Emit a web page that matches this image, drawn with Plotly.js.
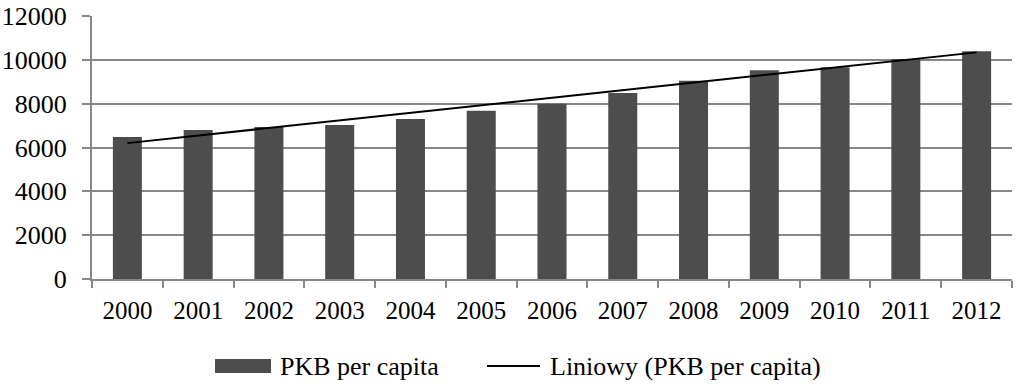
<!DOCTYPE html>
<html>
<head>
<meta charset="utf-8">
<script src="https://cdn.plot.ly/plotly-3.0.1.min.js"></script>
<style>html,body{margin:0;padding:0;background:#fff;}#chart{width:1023px;height:390px;}</style>
</head>
<body>
<div id="chart"></div>
<script>
const years = ['2000','2001','2002','2003','2004','2005','2006','2007','2008','2009','2010','2011','2012'];
const pkbPerCapita = [6480, 6800, 6930, 7030, 7300, 7680, 8000, 8490, 9050, 9520, 9660, 10040, 10390];
const trendYears = ['2000', '2012'];
const trendValues = [6200, 10340];
const yTicks = [0, 2000, 4000, 6000, 8000, 10000, 12000];
const yTickText = ['0', '2000', '4000', '6000', '8000', '10000', '12000'];
const seriesNames = ['PKB per capita', 'Liniowy (PKB per capita)'];

const fontFamily = 'Liberation Serif';
const gridColor = '#878787';
const barColor = '#4d4d4d';

const traces = [
  {
    type: 'bar', name: seriesNames[0], x: years, y: pkbPerCapita,
    marker: {color: barColor}
  },
  {
    type: 'scatter', mode: 'lines', name: seriesNames[1],
    x: trendYears, y: trendValues,
    line: {color: '#000000', width: 2}
  }
];

const legY = -0.3308;
const layout = {
  width: 1023, height: 390,
  margin: {l: 92, r: 11, t: 16, b: 111, autoexpand: false},
  paper_bgcolor: '#ffffff', plot_bgcolor: '#ffffff',
  font: {family: fontFamily, size: 25, color: '#000'},
  bargap: 0.59,
  showlegend: false,
  xaxis: {
    type: 'category', tickson: 'boundaries', ticks: 'outside', ticklen: 7, tickwidth: 2,
    tickcolor: gridColor, showline: true, linecolor: gridColor, linewidth: 2,
    showgrid: false, ticklabelstandoff: 8, fixedrange: true
  },
  yaxis: {
    range: [0, 12000], tickvals: yTicks, ticktext: yTickText, ticks: 'outside', ticklen: 8, tickwidth: 2,
    tickcolor: gridColor, showline: true, linecolor: gridColor, linewidth: 2,
    showgrid: true, gridcolor: gridColor, gridwidth: 2, zeroline: false,
    ticklabelstandoff: 10, tickfont: {size: 26}, fixedrange: true
  },
  shapes: [
    {type: 'rect', xref: 'paper', yref: 'paper', x0: 0.1337, x1: 0.1946, y0: -0.3574, y1: -0.3042,
     fillcolor: barColor, line: {width: 0}},
    {type: 'line', xref: 'paper', yref: 'paper', x0: 0.4293, x1: 0.4870, y0: legY, y1: legY,
     line: {color: '#000', width: 2}}
  ],
  annotations: [
    {xref: 'paper', yref: 'paper', x: 0.2022, y: legY, xanchor: 'left', yanchor: 'middle',
     text: seriesNames[0], showarrow: false, font: {family: fontFamily, size: 26, color: '#000'}},
    {xref: 'paper', yref: 'paper', x: 0.4957, y: legY, xanchor: 'left', yanchor: 'middle',
     text: seriesNames[1], showarrow: false, font: {family: fontFamily, size: 26, color: '#000'}}
  ]
};

Plotly.newPlot('chart', traces, layout, {displayModeBar: false, staticPlot: true});
</script>
</body>
</html>
